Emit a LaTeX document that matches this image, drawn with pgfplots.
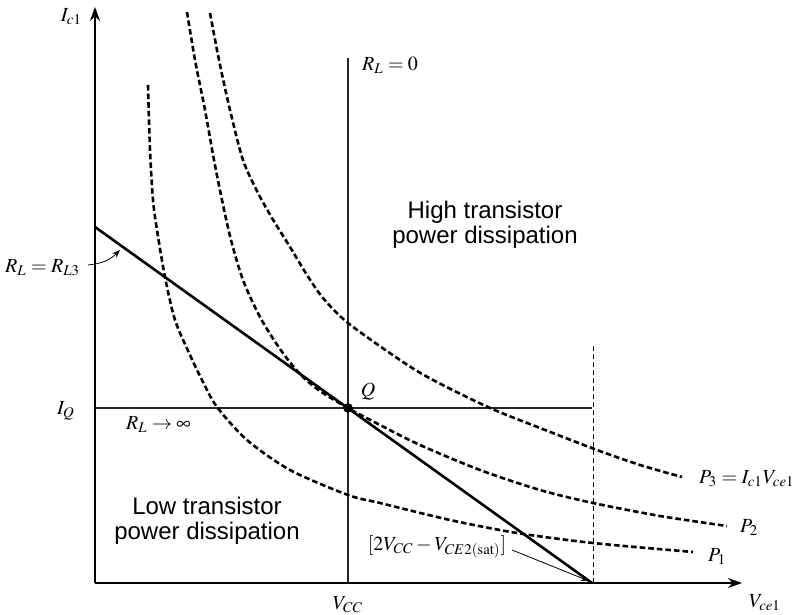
\documentclass[border=0pt]{standalone}
\usepackage{mathptmx}
\usepackage{pgfplots}
\pgfplotsset{compat=1.18}
\usepackage{fontspec}
\setmainfont{Liberation Sans}
\usetikzlibrary{arrows.meta}
\begin{document}
\begin{tikzpicture}
\begin{axis}[scale only axis, width=399.5pt, height=307.5pt,
  xmin=-95, xmax=704, ymin=-32, ymax=583, hide axis, clip=false,
  every node/.style={font=\fontsize{11pt}{13pt}\selectfont}]
% axes
\draw[line width=1pt, -{Stealth[length=7pt,width=5pt]}] (axis cs:0,0) -- (axis cs:647,0);
\draw[line width=1pt, -{Stealth[length=7pt,width=5pt]}] (axis cs:0,0) -- (axis cs:0,576);
% thin lines
\addplot[black!85, line width=0.6pt] coordinates {(0,175) (497,175)};
\addplot[black!85, line width=0.6pt] coordinates {(253,0) (253,525)};
\addplot[black, line width=0.4pt, dash pattern=on 2.5pt off 1.5pt] coordinates {(498,0) (498,238)};
% load line
\addplot[black, line width=1.3pt] coordinates {(0,356) (497,0)};
% P1
\addplot[black, line width=1.3pt, dash pattern=on 2.8pt off 1.5pt, smooth] coordinates {
(53,498) (55,433) (58,383) (62,353) (70,306) (80,263) (95,228) (107,203) (122,176) (152,143) (195,113) (253,88) (285,80) (355,63) (422,50) (498,40) (598,31)};
% P2
\addplot[black, line width=1.3pt, dash pattern=on 2.8pt off 1.5pt, smooth] coordinates {
(92,571) (100,523) (110,473) (119,423) (127,383) (136,343) (148,303) (165,266) (185,234) (205,209) (225,192) (253,175) (285,158) (325,138) (385,113) (445,93) (498,80) (565,67) (632,57)};
% P3
\addplot[black, line width=1.3pt, dash pattern=on 2.8pt off 1.5pt, smooth] coordinates {
(115,570) (124,523) (135,473) (148,423) (163,390) (177,365) (195,336) (212,308) (228,285) (253,260) (305,223) (338,203) (395,175) (445,155) (502,133) (545,118) (587,106)};
% Q point
\addplot[black, only marks, mark=*, mark size=2.2pt] coordinates {(253,175)};
% labels
\node[anchor=east] at (axis cs:-6,566) {$I_{c1}$};
\node[anchor=east] at (axis cs:-8,315) {$R_L = R_{L3}$};
\draw[line width=0.4pt, -{Stealth[length=4pt,width=3pt]}] (axis cs:-7,318) to[bend right=20] (axis cs:25,333);
\node[anchor=east] at (axis cs:-13,172) {$I_Q$};
\node[anchor=west] at (axis cs:24,158) {$R_L \rightarrow \infty$};
\node[align=center, font=\fontsize{12pt}{12.5pt}\selectfont] at (axis cs:112,62) {Low transistor\\power dissipation};
\node[align=center, font=\fontsize{12pt}{12.5pt}\selectfont] at (axis cs:390,358) {High transistor\\power dissipation};
\node[anchor=west] at (axis cs:260,518) {$R_L = 0$};
\node at (axis cs:273,191) {$Q$};
\node at (axis cs:342,36) {$[2V_{CC} - V_{CE2(\mathrm{sat})}]$};
\draw[line width=0.4pt, -{Stealth[length=4pt,width=3pt]}] (axis cs:417,33) -- (axis cs:494,2);
\node at (axis cs:253,-22) {$V_{CC}$};
\node at (axis cs:670,-20) {$V_{ce1}$};
\node[anchor=west] at (axis cs:597,104) {$P_3 = I_{c1}V_{ce1}$};
\node[anchor=west] at (axis cs:638,55) {$P_2$};
\node[anchor=west] at (axis cs:606,26) {$P_1$};
\end{axis}
\pgfresetboundingbox
\path[use as bounding box] (current axis.south west) rectangle (current axis.north east);
\end{tikzpicture}
\end{document}
